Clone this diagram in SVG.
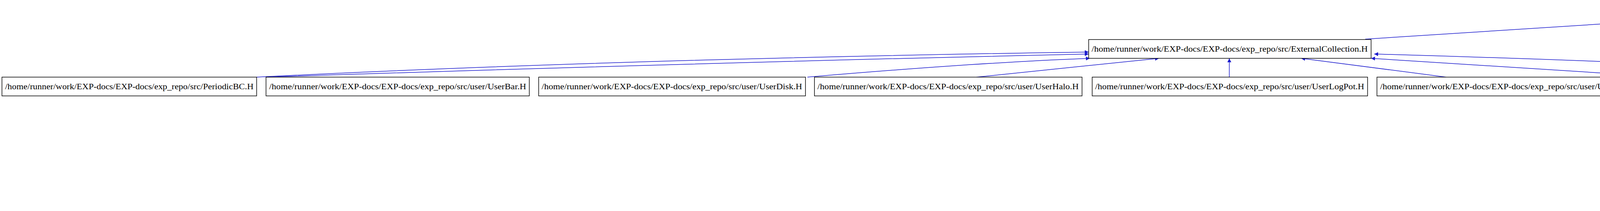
<svg xmlns="http://www.w3.org/2000/svg" width="6921" height="539" viewBox="0 0 6921 539">
<style>
.n rect{fill:#fff;stroke:#000;stroke-width:1.5}
.n.root rect{fill:#bfbfbf}
.n text{font-family:"Liberation Serif",serif;font-size:20px;text-anchor:middle;fill:#000}
.e path{fill:none;stroke:#1a1acd;stroke-width:1.5;marker-end:url(#a)}
</style>
<defs><marker id="a" viewBox="0 0 10 10" refX="10" refY="5" markerWidth="12" markerHeight="10" orient="auto" markerUnits="userSpaceOnUse"><path d="M0,0L10,5L0,10z" fill="#1a1acd"/></marker></defs>
<rect width="6921" height="539" fill="#fff"/>
<g class="e">
<path d="M3495,100L4213,54"/>
<path d="M5671,102L4917,54"/>
<path d="M657,197Q1600,150 2787,133"/>
<path d="M681,197Q1800,160 2787,138"/>
<path d="M2067,197Q2500,160 2790,149"/>
<path d="M2500,197L2967,149"/>
<path d="M3147,197L3147,149"/>
<path d="M3702,197L3331,149"/>
<path d="M4265,197L3510,149"/>
<path d="M4965,197Q4300,160 3518,138"/>
<path d="M5977,197L5977,149"/>
<path d="M6457,197L6139,149"/>
<path d="M5977,293L5977,245"/>
<path d="M5977,389L5977,341"/>
<path d="M5730,485L5888,437"/>
<path d="M6231,485L6064,437"/>
</g>
<g id="n0" class="n root"><rect x="4189" y="5" width="746" height="48"/><text x="4562" y="36" textLength="730" lengthAdjust="spacingAndGlyphs">/home/runner/work/EXP-docs/EXP-docs/exp_repo/src/ComponentContainer.H</text></g>
<g id="n1" class="n"><rect x="2787" y="101" width="723" height="48"/><text x="3148" y="132" textLength="707" lengthAdjust="spacingAndGlyphs">/home/runner/work/EXP-docs/EXP-docs/exp_repo/src/ExternalCollection.H</text></g>
<g id="n2" class="n"><rect x="5671" y="101" width="613" height="48"/><text x="5977" y="132" textLength="597" lengthAdjust="spacingAndGlyphs">/home/runner/work/EXP-docs/EXP-docs/exp_repo/src/expand.H</text></g>
<g id="n3" class="n"><rect x="5" y="197" width="652" height="48"/><text x="331" y="228" textLength="636" lengthAdjust="spacingAndGlyphs">/home/runner/work/EXP-docs/EXP-docs/exp_repo/src/PeriodicBC.H</text></g>
<g id="n4" class="n"><rect x="681" y="197" width="674" height="48"/><text x="1018" y="228" textLength="658" lengthAdjust="spacingAndGlyphs">/home/runner/work/EXP-docs/EXP-docs/exp_repo/src/user/UserBar.H</text></g>
<g id="n5" class="n"><rect x="1379" y="197" width="683" height="48"/><text x="1720" y="228" textLength="667" lengthAdjust="spacingAndGlyphs">/home/runner/work/EXP-docs/EXP-docs/exp_repo/src/user/UserDisk.H</text></g>
<g id="n6" class="n"><rect x="2085" y="197" width="685" height="48"/><text x="2427" y="228" textLength="669" lengthAdjust="spacingAndGlyphs">/home/runner/work/EXP-docs/EXP-docs/exp_repo/src/user/UserHalo.H</text></g>
<g id="n7" class="n"><rect x="2796" y="197" width="705" height="48"/><text x="3148" y="228" textLength="689" lengthAdjust="spacingAndGlyphs">/home/runner/work/EXP-docs/EXP-docs/exp_repo/src/user/UserLogPot.H</text></g>
<g id="n8" class="n"><rect x="3525" y="197" width="714" height="48"/><text x="3882" y="228" textLength="698" lengthAdjust="spacingAndGlyphs">/home/runner/work/EXP-docs/EXP-docs/exp_repo/src/user/UserMNdisk.H</text></g>
<g id="n9" class="n"><rect x="4265" y="197" width="675" height="48"/><text x="4602" y="228" textLength="659" lengthAdjust="spacingAndGlyphs">/home/runner/work/EXP-docs/EXP-docs/exp_repo/src/user/UserMW.H</text></g>
<g id="n10" class="n"><rect x="4965" y="197" width="681" height="48"/><text x="5305" y="228" textLength="665" lengthAdjust="spacingAndGlyphs">/home/runner/work/EXP-docs/EXP-docs/exp_repo/src/user/UserTest.H</text></g>
<g id="n11" class="n"><rect x="5671" y="197" width="613" height="48"/><text x="5977" y="228" textLength="597" lengthAdjust="spacingAndGlyphs">/home/runner/work/EXP-docs/EXP-docs/exp_repo/src/CylEXP.H</text></g>
<g id="n12" class="n"><rect x="6310" y="197" width="606" height="48"/><text x="6613" y="228" textLength="590" lengthAdjust="spacingAndGlyphs">/home/runner/work/EXP-docs/EXP-docs/exp_repo/src/Shells.H</text></g>
<g id="n13" class="n"><rect x="5666" y="293" width="624" height="48"/><text x="5978" y="324" textLength="608" lengthAdjust="spacingAndGlyphs">/home/runner/work/EXP-docs/EXP-docs/exp_repo/src/Cylinder.H</text></g>
<g id="n14" class="n"><rect x="5654" y="389" width="647" height="48"/><text x="5977" y="420" textLength="631" lengthAdjust="spacingAndGlyphs">/home/runner/work/EXP-docs/EXP-docs/exp_repo/src/TwoCenter.H</text></g>
<g id="n15" class="n"><rect x="5343" y="485" width="605" height="48"/><text x="5645" y="516" textLength="589" lengthAdjust="spacingAndGlyphs">/home/runner/work/EXP-docs/EXP-docs/exp_repo/src/EJcom.H</text></g>
<g id="n16" class="n"><rect x="5974" y="485" width="675" height="48"/><text x="6311" y="516" textLength="659" lengthAdjust="spacingAndGlyphs">/home/runner/work/EXP-docs/EXP-docs/exp_repo/src/MixtureBasis.H</text></g>
</svg>
